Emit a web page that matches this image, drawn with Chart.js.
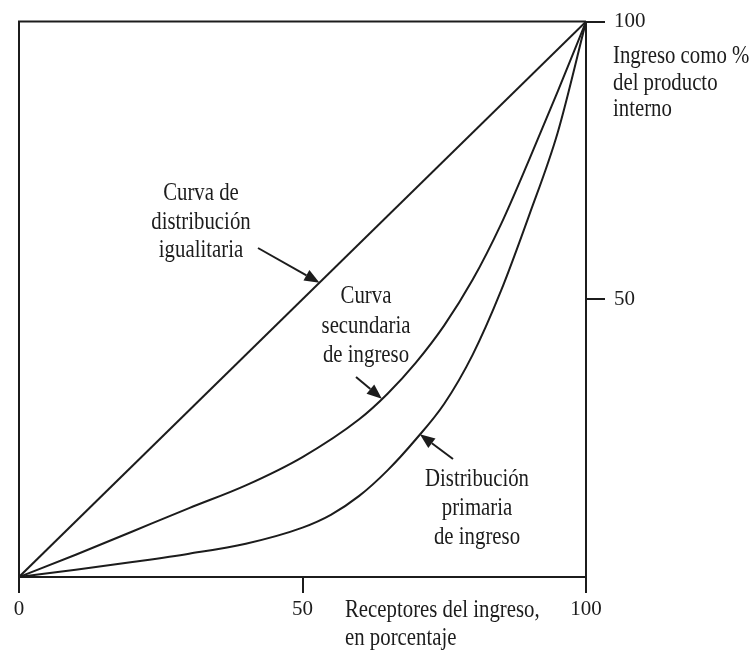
<!DOCTYPE html>
<html>
<head>
<meta charset="utf-8">
<script src="https://cdn.jsdelivr.net/npm/chart.js@4.4.0/dist/chart.umd.min.js"></script>
<style>
  html, body { margin: 0; padding: 0; background: #fff; }
  #wrap { width: 751px; height: 654px; }
</style>
</head>
<body>
<div id="wrap"><canvas id="lorenz"></canvas></div>
<script>
// ====== Datos (en %) ======
const xTicks = [0, 50, 100];
const yTicks = [50, 100];

// curva de distribución igualitaria
const igualX = [0, 100];
const igualY = [0, 100];

// curva secundaria de ingreso
const secundX = [0, 10, 20, 30, 40, 50, 60, 65, 70, 75, 80, 85, 90, 95, 100];
const secundY = [0, 4.0, 8.2, 12.4, 16.5, 21.6, 28.4, 33.0, 38.6, 45.3, 53.5, 63.5, 75.2, 87.4, 100];

// distribución primaria de ingreso
const primX = [0, 10, 20, 30, 40, 50, 55, 60, 65, 70, 75, 80, 85, 90, 95, 100];
const primY = [0, 1.3, 2.7, 4.2, 6.0, 8.9, 11.2, 14.6, 19.2, 24.8, 31.2, 40.0, 51.5, 65.2, 80.0, 100];

const INK = "#1c1c1c";
const SERIF = '"Liberation Serif", "DejaVu Serif", serif';

const toPoints = (xs, ys) => xs.map((x, i) => ({ x, y: ys[i] }));

function lineSet(xs, ys) {
  return {
    data: toPoints(xs, ys),
    showLine: true,
    borderColor: INK,
    borderWidth: 2,
    pointRadius: 0,
    cubicInterpolationMode: "monotone",
    fill: false
  };
}

// ====== Textos y flechas (fuente serif condensada) ======
function condensedText(ctx, txt, x, y, align) {
  ctx.save();
  ctx.translate(x, y);
  ctx.scale(0.8, 1);
  ctx.textAlign = align;
  ctx.textBaseline = "alphabetic";
  ctx.fillText(txt, 0, 0);
  ctx.restore();
}

function arrow(ctx, x0, y0, x1, y1) {
  const a = Math.atan2(y1 - y0, x1 - x0);
  const len = 15, half = 6;
  const bx = x1 - len * Math.cos(a), by = y1 - len * Math.sin(a);
  ctx.beginPath();
  ctx.moveTo(x0, y0);
  ctx.lineTo(bx, by);
  ctx.stroke();
  ctx.beginPath();
  ctx.moveTo(x1, y1);
  ctx.lineTo(bx + half * Math.sin(a), by - half * Math.cos(a));
  ctx.lineTo(bx - half * Math.sin(a), by + half * Math.cos(a));
  ctx.closePath();
  ctx.fill();
}

const decor = {
  id: "decor",
  afterDraw(chart) {
    const { ctx, chartArea: a, scales } = chart;
    const px = v => scales.x.getPixelForValue(v);
    const py = v => scales.y.getPixelForValue(v);
    ctx.save();
    ctx.strokeStyle = INK;
    ctx.fillStyle = INK;
    ctx.lineWidth = 2;
    // marco superior e izquierdo
    ctx.beginPath();
    ctx.moveTo(a.left, a.bottom);
    ctx.lineTo(a.left, a.top);
    ctx.lineTo(a.right, a.top);
    ctx.stroke();

    ctx.font = "26px " + SERIF;
    // eje vertical
    condensedText(ctx, "Ingreso como %", 613, 63, "left");
    condensedText(ctx, "del producto", 613, 90, "left");
    condensedText(ctx, "interno", 613, 116, "left");
    // eje horizontal
    condensedText(ctx, "Receptores del ingreso,", 345, 617, "left");
    condensedText(ctx, "en porcentaje", 345, 645, "left");
    // etiquetas de curvas
    condensedText(ctx, "Curva de", 201, 200, "center");
    condensedText(ctx, "distribución", 201, 229, "center");
    condensedText(ctx, "igualitaria", 201, 257, "center");
    condensedText(ctx, "Curva", 366, 303, "center");
    condensedText(ctx, "secundaria", 366, 333, "center");
    condensedText(ctx, "de ingreso", 366, 362, "center");
    condensedText(ctx, "Distribución", 477, 486, "center");
    condensedText(ctx, "primaria", 477, 515, "center");
    condensedText(ctx, "de ingreso", 477, 544, "center");

    // flechas hacia cada curva
    arrow(ctx, 258, 248, px(53.0), py(53.0));
    arrow(ctx, 356, 377, px(64.0), py(32.1));
    arrow(ctx, 453, 459, px(70.7), py(25.7));
    ctx.restore();
  }
};

// ====== Gráfico ======
const ctx = document.getElementById("lorenz").getContext("2d");
new Chart(ctx, {
  type: "scatter",
  data: {
    datasets: [
      lineSet(igualX, igualY),
      lineSet(secundX, secundY),
      lineSet(primX, primY)
    ]
  },
  options: {
    responsive: true,
    maintainAspectRatio: false,
    animation: false,
    layout: { padding: { left: 19, top: 21, right: 0, bottom: 0 } },
    plugins: { legend: { display: false }, tooltip: { enabled: false } },
    scales: {
      x: {
        type: "linear", position: "bottom", min: 0, max: 100,
        afterBuildTicks: s => { s.ticks = xTicks.map(v => ({ value: v })); },
        afterFit: s => { s.height = 77; },
        grid: { drawOnChartArea: false, drawTicks: true, tickLength: 16, color: INK, lineWidth: 2 },
        border: { display: true, color: INK, width: 2 },
        ticks: { color: INK, padding: 4, maxRotation: 0, font: { family: SERIF, size: 21 } }
      },
      y: {
        type: "linear", position: "right", min: 0, max: 100,
        afterBuildTicks: s => { s.ticks = yTicks.map(v => ({ value: v })); },
        afterFit: s => { s.width = 165; },
        grid: { drawOnChartArea: false, drawTicks: true, tickLength: 19, color: INK, lineWidth: 2 },
        border: { display: true, color: INK, width: 2 },
        ticks: { color: INK, padding: 9, font: { family: SERIF, size: 21 } }
      }
    }
  },
  plugins: [decor]
});
</script>
</body>
</html>
